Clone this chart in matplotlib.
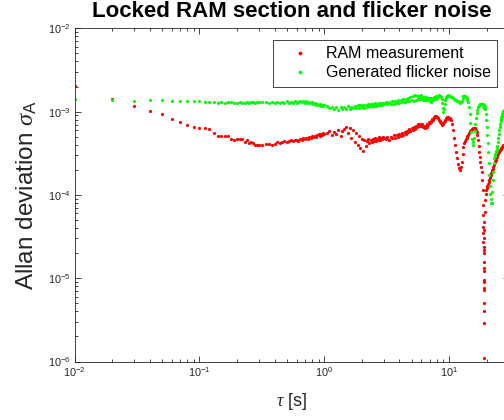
import numpy as np
import matplotlib
matplotlib.use("Agg")
import matplotlib.pyplot as plt
from matplotlib.ticker import LogLocator, LogFormatterSciNotation, NullFormatter

plt.rcParams.update({
    "font.family": ["Liberation Sans", "DejaVu Sans"],
    "mathtext.fontset": "custom",
    "mathtext.rm": "Liberation Sans",
    "mathtext.it": "Liberation Serif:italic",
    "mathtext.bf": "Liberation Sans:bold",
})

# Averaging times tau [s]
tau = [
    0.01, 0.02, 0.03, 0.04, 0.05, 0.06, 0.07, 0.08, 0.09, 0.10,
    0.11, 0.12, 0.13, 0.14, 0.15, 0.16, 0.17, 0.18, 0.19, 0.20,
    0.21, 0.22, 0.23, 0.24, 0.25, 0.26, 0.27, 0.28, 0.29, 0.30,
    0.32, 0.34, 0.36, 0.38, 0.40, 0.42, 0.44, 0.46, 0.48, 0.50,
    0.52, 0.54, 0.56, 0.58, 0.60, 0.62, 0.64, 0.66, 0.68, 0.70,
    0.72, 0.74, 0.76, 0.78, 0.80, 0.82, 0.84, 0.86, 0.88, 0.90,
    0.92, 0.94, 0.96, 0.98, 1.00,
    1.05, 1.10, 1.15, 1.20, 1.25, 1.30, 1.35, 1.40, 1.45, 1.50,
    1.55, 1.60, 1.65, 1.70, 1.75, 1.80, 1.85, 1.90, 1.95, 2.00,
    2.05, 2.10, 2.15, 2.20, 2.25, 2.30, 2.35, 2.40, 2.45, 2.50,
    2.55, 2.60, 2.65, 2.70, 2.75, 2.80, 2.85, 2.90, 2.95, 3.00,
    3.1, 3.2, 3.3, 3.4, 3.5, 3.6, 3.7, 3.8, 3.9, 4.0,
    4.1, 4.2, 4.3, 4.4, 4.5, 4.6, 4.7, 4.8, 4.9, 5.0,
    5.1, 5.2, 5.3, 5.4, 5.5, 5.6, 5.7, 5.8, 5.9, 6.0,
    6.1, 6.2, 6.3, 6.4, 6.5, 6.6, 6.7, 6.8, 6.9, 7.0,
    7.1, 7.2, 7.3, 7.4, 7.5, 7.6, 7.7, 7.8, 7.9, 8.0,
    8.1, 8.2, 8.3, 8.4, 8.5, 8.6, 8.7, 8.8, 8.9, 9.0,
    9.1, 9.2, 9.3, 9.4, 9.5, 9.6, 9.7, 9.8, 9.9, 10.0,
    10.2, 10.4, 10.6, 10.8, 11.0, 11.2, 11.4, 11.6, 11.8, 12.0,
    12.2, 12.4, 12.6, 12.8, 13.0, 13.2, 13.4, 13.6, 13.8, 14.0,
    14.2, 14.4, 14.6, 14.8, 15.0, 15.2, 15.4, 15.6, 15.8, 16.0,
    16.2, 16.4, 16.6, 16.8, 17.0, 17.2, 17.4, 17.6, 17.8, 18.0,
    18.2, 18.4, 18.6,
    18.70, 18.75, 18.80, 18.82, 18.84, 18.86, 18.88, 18.90, 18.92, 18.94,
    18.96, 18.98, 19.00, 19.02, 19.04, 19.06, 19.08, 19.10, 19.12, 19.14,
    19.16, 19.20, 19.30,
    19.4, 19.6, 19.8, 20.0, 20.2, 20.4, 20.6, 20.8, 21.0, 21.2,
    21.4, 21.6, 21.8, 22.0, 22.2, 22.4, 22.6, 22.8, 23.0, 23.2,
    23.4, 23.6, 23.8, 24.0, 24.2, 24.4, 24.6, 24.8, 25.0, 25.2,
    25.4, 25.6, 25.8, 26.0, 26.2, 26.4, 26.6, 26.8, 27.0, 27.2,
    27.4, 27.6, 27.8, 28.0,
]

# Allan deviation of the RAM measurement, in units of 1e-4
ram_e4 = [
    20.3, 14.1, 11.7, 10.1, 9.3, 8.2, 7.5, 7.0, 6.5, 6.3,
    6.3, 6.1, 5.6, 5.15, 5.15, 5.1, 5.1, 4.74, 4.61, 4.69,
    4.65, 4.65, 4.31, 4.52, 4.23, 4.36, 4.18, 4.01, 3.94, 4.01,
    4.01, 4.05, 4.13, 4.01, 4.13, 4.28, 4.18, 4.31, 4.40, 4.28,
    4.43, 4.52, 4.40, 4.52, 4.61, 4.48, 4.69, 4.61, 4.78, 4.69,
    4.88, 4.74, 4.96, 4.82, 5.05, 4.92, 5.15, 4.96, 5.19, 5.34,
    5.09, 5.44, 5.29, 5.53, 5.34,
    5.49, 5.80, 5.19, 5.64, 5.34, 5.96, 5.05, 5.80, 6.13, 6.48,
    5.49, 6.31, 4.78, 5.96, 4.28, 5.49, 3.94, 5.05, 3.63, 4.65,
    3.34, 4.52, 3.83, 4.40, 4.65, 4.16, 4.52, 4.28, 4.65, 4.40,
    4.78, 4.40, 4.65, 4.52, 4.92, 4.52, 4.78, 4.65, 4.92, 4.78,
    4.65, 4.92, 4.52, 4.92, 4.78, 5.19, 4.78, 5.19, 4.92, 5.34,
    5.05, 5.49, 5.19, 5.64, 5.34, 5.80, 5.64, 6.13, 5.80, 6.31,
    5.96, 6.48, 6.13, 6.66, 6.48, 7.04, 6.66, 7.04, 6.85, 6.66,
    7.04, 6.48, 6.66, 6.31, 6.66, 6.48, 7.04, 6.85, 7.44, 7.24,
    7.65, 7.44, 8.08, 7.86, 8.54, 8.31, 8.78, 8.54, 8.78, 8.54,
    8.31, 8.31, 7.86, 7.65, 7.44, 7.24, 7.04, 6.85, 7.04, 7.24,
    7.44, 7.65, 7.86, 8.08, 8.31, 8.31, 8.54, 8.54, 8.31, 8.08,
    8.31, 7.86, 7.04, 5.96, 4.78, 3.94, 3.25, 2.75, 2.33, 2.09,
    1.97, 2.15, 2.46, 3.07, 3.73, 4.16, 4.40, 4.65, 4.78, 5.05,
    5.19, 5.49, 5.64, 5.80, 5.96, 6.13, 6.13, 6.31, 6.31, 6.31,
    6.13, 5.96, 5.64, 5.19, 4.52, 3.83, 3.25, 2.83, 2.46, 2.15,
    1.87, 1.50, 1.14,
    0.75, 0.57, 0.41, 0.346, 0.272, 0.216, 0.156, 0.122, 0.090, 0.0716,
    0.0401, 0.0109, 0.029, 0.0504, 0.0757, 0.0944, 0.1315, 0.199, 0.237, 0.301,
    0.376, 0.469, 0.618,
    0.86, 1.02, 1.14, 1.20, 1.27, 1.30, 1.34, 1.42, 1.50, 1.58,
    1.63, 1.72, 1.82, 1.87, 1.97, 2.03, 2.15, 2.27, 2.33, 2.46,
    2.53, 2.60, 2.75, 2.83, 2.91, 2.99, 3.07, 3.16, 3.25, 3.34,
    3.43, 3.43, 3.53, 3.53, 3.63, 3.73, 3.73, 3.83, 3.83, 3.94,
    3.94, 3.94, 4.05, 4.05,
]

# Allan deviation of the generated flicker noise, in units of 1e-4
flicker_e4 = [
    14.2, 13.9, 13.4, 13.6, 13.7, 13.3, 13.3, 13.3, 13.4, 13.4,
    13.2, 13.2, 12.9, 12.8, 12.9, 12.7, 13.2, 12.9, 12.7, 12.8,
    12.9, 12.7, 12.8, 12.9, 12.7, 12.9, 13.0, 12.8, 13.2, 12.9,
    12.93, 13.19, 12.69, 13.04, 12.83, 13.19, 12.69, 13.04, 12.83, 13.30,
    12.69, 13.19, 12.83, 13.30, 12.69, 13.19, 13.56, 12.93, 13.41, 12.83,
    13.30, 12.69, 13.04, 12.58, 12.93, 12.34, 12.69, 12.14, 12.48, 11.90,
    12.24, 11.68, 12.00, 11.58, 11.90,
    11.58, 10.96, 11.42, 10.66, 11.26, 10.51, 11.26, 10.66, 11.42, 10.81,
    11.58, 10.66, 11.42, 10.96, 11.74, 10.96, 11.90, 11.11, 12.07, 11.26,
    11.90, 11.11, 12.07, 11.42, 12.24, 11.58, 12.41, 11.58, 12.24, 11.74,
    12.58, 11.74, 12.41, 11.90, 12.58, 11.90, 12.76, 12.07, 12.76, 12.24,
    12.93, 12.24, 13.11, 12.41, 13.30, 12.41, 13.48, 12.58, 13.67, 12.76,
    13.67, 12.93, 14.05, 13.11, 14.25, 13.30, 14.64, 13.30, 15.05, 13.67,
    15.26, 13.48, 15.69, 13.86, 15.47, 14.25, 15.26, 14.05, 15.69, 14.44,
    15.05, 13.67, 14.85, 13.86, 14.85, 13.67, 14.64, 14.05, 14.44, 13.30,
    14.44, 13.11, 14.44, 13.67, 14.85, 14.05, 15.05, 14.25, 15.26, 14.64,
    15.26, 15.47, 15.69, 15.47, 15.26, 14.85, 14.05, 12.58, 10.96, 9.81,
    10.66, 12.24, 13.67, 14.44, 14.85, 15.26, 15.47, 15.69, 15.47, 15.26,
    15.26, 15.05, 14.85, 14.44, 14.05, 13.86, 13.67, 13.48, 13.30, 12.93,
    12.58, 12.93, 13.30, 14.44, 15.26, 15.47, 15.47, 15.05, 14.44, 13.67,
    12.93, 11.26, 9.28, 7.24, 5.64, 4.65, 3.94, 4.28, 4.78, 5.80,
    7.04, 8.31, 9.54, 10.36, 11.26, 11.74, 12.07, 12.24, 12.41, 12.41,
    12.41, 12.24, 12.24,
    12.07, 11.90, 11.74, 11.90, 12.07, 11.74, 11.90, 11.58, 11.74, 11.90,
    11.74, 11.58, 11.74, 11.58, 11.42, 11.58, 11.42, 11.26, 11.42, 11.26,
    11.11, 11.11, 11.26,
    10.66, 9.28, 7.86, 6.48, 5.19, 4.16, 3.25, 2.40, 1.72, 1.27,
    1.02, 0.89, 0.79, 0.79, 1.08, 1.50, 1.87, 2.40, 2.75, 2.91,
    3.07, 3.25, 3.34, 3.43, 3.63, 3.83, 4.28, 4.78, 5.34, 5.96,
    6.48, 7.04, 7.65, 8.08, 8.54, 8.78, 9.28, 9.54, 9.81, 10.08,
    10.22, 10.36, 10.51, 10.66,
]

series_labels = ["RAM measurement", "Generated flicker noise"]

tau = np.asarray(tau)
ram = np.asarray(ram_e4) * 1e-4
flicker = np.asarray(flicker_e4) * 1e-4
assert len(tau) == len(ram) == len(flicker), (len(tau), len(ram), len(flicker))

W, H = 504, 420
fig = plt.figure(figsize=(W / 100, H / 100), dpi=100)
# axes run a little past the right edge of the figure
left, right, top, bottom = 74.5, 508.7, 28.3, 361.5
ax = fig.add_axes([left / W, 1 - bottom / H, (right - left) / W, (bottom - top) / H])

mk = dict(linestyle="none", marker="o", markersize=2.3, markeredgewidth=0)
ax.plot(tau, ram, color="#ff0000", label=series_labels[0], **mk)
ax.plot(tau, flicker, color="#00ff00", label=series_labels[1], **mk)

ax.set_xscale("log")
ax.set_yscale("log")
ax.set_xlim(1e-2, 30)
ax.set_ylim(1e-6, 1e-2)

axis_col = "#262626"
for sp in ax.spines.values():
    sp.set_color(axis_col)
    sp.set_linewidth(0.6)
for a in (ax.xaxis, ax.yaxis):
    a.set_major_locator(LogLocator(base=10, numticks=10))
    a.set_minor_locator(LogLocator(base=10, subs=np.arange(2, 10), numticks=20))
    a.set_major_formatter(LogFormatterSciNotation())
    a.set_minor_formatter(NullFormatter())
ax.tick_params(which="both", direction="in", top=True, right=True,
               colors=axis_col, width=0.6)
ax.tick_params(which="major", length=4.5, labelsize=7.8, pad=3)
ax.tick_params(which="minor", length=2.5)

ax.set_title("Locked RAM section and flicker noise", fontsize=16,
             fontweight="bold", pad=8)
ax.set_xlabel(r"$\tau$ [s]", fontsize=13, labelpad=8, color="#262626")
ax.set_ylabel(r"Allan deviation $\sigma_{\mathrm{A}}$", fontsize=17.5,
              labelpad=6, color="#262626")

leg = ax.legend(loc="upper right", bbox_to_anchor=(497 / W, 1 - 40 / H),
                bbox_transform=fig.transFigure, borderaxespad=0,
                fontsize=11.5, handlelength=2.6, handletextpad=0.3,
                borderpad=0.4, labelspacing=0.25, numpoints=1,
                fancybox=False, framealpha=1, markerscale=1.2)
leg.get_frame().set_edgecolor(axis_col)
leg.get_frame().set_linewidth(0.6)

fig.savefig("out.png", dpi=100)
